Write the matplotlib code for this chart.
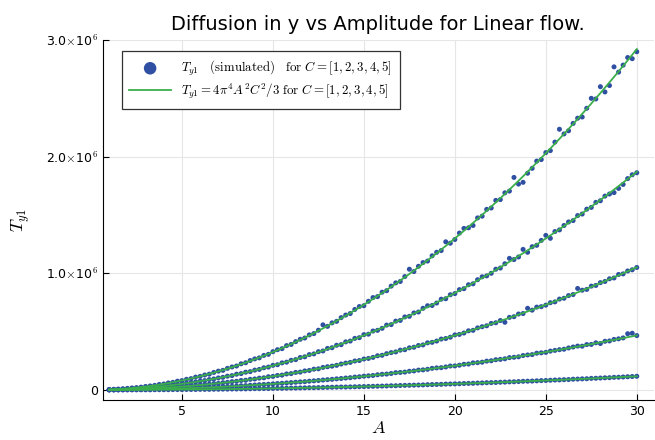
import numpy as np
import matplotlib.pyplot as plt
from matplotlib.ticker import FuncFormatter

plt.rcParams['mathtext.fontset'] = 'cm'

# amplitude grid
A = np.arange(1, 30.001, 0.25)
C_values = [1, 2, 3, 4, 5]

# simulated T_y1 (in thousands), one row per integer A: A, A+.25, A+.5, A+.75
sim_c1 = [
    0.1, 0.2, 0.3, 0.4,  0.5, 0.7, 0.8, 1.0,  1, 1, 2, 2,  2, 2, 3, 3,
    3, 4, 4, 4,  5, 5, 5, 6,  6, 7, 7, 8,  8, 9, 9, 10,
    11, 11, 12, 12,  13, 14, 14, 15,  16, 16, 17, 18,  19, 19, 20, 21,
    22, 23, 24, 25,  25, 26, 27, 28,  29, 30, 31, 32,  33, 34, 36, 36,
    38, 39, 40, 41,  42, 43, 45, 46,  47, 48, 50, 51,  52, 53, 55, 56,
    57, 59, 60, 62,  63, 64, 66, 67,  69, 70, 72, 74,  75, 76, 78, 80,
    81, 83, 85, 86,  88, 89, 92, 93,  95, 96, 99, 100,  102, 104, 105, 108,
    109, 111, 113, 115,  117,
]
sim_c2 = [
    0.5, 0.8, 1.2, 1.6,  2.1, 2.6, 3.2, 3.9,  4.7, 5.5, 6.4, 7.3,  8.3, 9.4, 10.5, 11.7,
    13, 14, 16, 17,  19, 20, 22, 24,  25, 28, 29, 31,  33, 36, 37, 40,
    42, 45, 47, 49,  52, 55, 57, 60,  63, 66, 69, 71,  75, 78, 81, 85,
    88, 91, 95, 98,  102, 105, 110, 113,  118, 121, 124, 130,  134, 136, 141, 148,
    150, 153, 160, 163,  170, 172, 177, 185,  189, 191, 197, 205,  206, 212, 220, 222,
    232, 234, 238, 247,  250, 259, 262, 267,  277, 280, 284, 295,  300, 303, 315, 318,
    322, 333, 339, 345,  349, 360, 368, 376,  375, 389, 390, 404,  398, 417, 420, 433,
    438, 446, 482, 486,  466,
]
sim_c3 = [
    1.2, 1.8, 2.6, 3.6,  4.7, 5.9, 7.3, 8.8,  10.5, 12.3, 14.5, 16.3,  19, 21, 23, 27,
    29, 32, 36, 38,  42, 47, 49, 54,  56, 62, 65, 71,  74, 81, 83, 91,
    94, 101, 104, 113,  116, 124, 127, 137,  140, 150, 153, 163,  167, 178, 181, 193,
    199, 204, 211, 222,  230, 236, 248, 252,  265, 270, 279, 293,  297, 311, 320, 326,
    341, 345, 361, 366,  381, 386, 404, 408,  419, 436, 441, 452,  472, 476, 488, 507,
    511, 532, 542, 550,  570, 576, 595, 580,  622, 628, 651, 655,  700, 684, 710, 714,
    727, 748, 755, 779,  786, 809, 818, 870,  855, 862, 890, 896,  920, 930, 953, 960,
    990, 995, 1020, 1030,  1050,
]
sim_c4 = [
    2.1, 3.2, 4.7, 6.4,  8.3, 10.5, 13, 15.7,  18.7, 22, 25.5, 29,  33, 37, 43, 47,
    51, 58, 63, 68,  76, 80, 89, 94,  103, 108, 118, 123,  135, 140, 152, 157,
    170, 176, 190, 196,  211, 216, 232, 238,  254, 260, 278, 284,  303, 309, 328, 334,
    356, 362, 383, 388,  412, 419, 442, 448,  474, 478, 505, 511,  528, 556, 560, 590,
    596, 626, 631, 660,  668, 700, 722, 724,  745, 778, 782, 816,  826, 860, 868, 902,
    910, 945, 970, 978,  1000, 1035, 1045, 1082,  1128, 1118, 1140, 1205,  1180, 1228, 1240, 1282,
    1325, 1300, 1358, 1372,  1410, 1440, 1452, 1495,  1508, 1550, 1565, 1608,  1622, 1662, 1680, 1692,
    1728, 1762, 1812, 1845,  1862,
]
sim_c5 = [
    3.2, 5.1, 7.3, 9.9,  13, 17, 20, 24,  30, 34, 39, 47,  51, 60, 65, 75,
    80, 91, 97, 110,  116, 128, 135, 150,  161, 168, 185, 197,  205, 224, 233, 252,
    266, 275, 296, 305,  328, 345, 354, 380,  390, 414, 434, 445,  472, 483, 512, 558,
    545, 575, 588, 620,  642, 655, 690, 715,  722, 760, 792, 800,  838, 851, 890, 918,
    930, 972, 1035, 1015,  1060, 1092, 1105, 1150,  1180, 1195, 1270, 1258,  1290, 1345, 1385, 1390,
    1410, 1475, 1490, 1548,  1560, 1625, 1632, 1690,  1705, 1822, 1765, 1780,  1858, 1900, 1962, 1975,
    2035, 2052, 2125, 2235,  2195, 2222, 2285, 2330,  2340, 2415, 2500, 2495,  2600, 2555, 2610, 2770,
    2725, 2785, 2850, 2840,  2900,
]
simulated = [sim_c1, sim_c2, sim_c3, sim_c4, sim_c5]

blue = '#2f4fa2'
green = '#3aae4a'

fig = plt.figure(figsize=(6.55, 4.4), dpi=100)
ax = fig.add_axes([0.157, 0.091, 0.841, 0.818])

for i, (C, sim) in enumerate(zip(C_values, simulated)):
    ax.scatter(A, np.array(sim) * 1e3, s=13, color=blue, edgecolors='none', zorder=2,
               label=r'$T_{y1}\quad\mathrm{(simulated)}\quad\mathrm{for}\ C = [1, 2, 3, 4, 5]$' if i == 0 else None)
for i, C in enumerate(C_values):
    theory = 4 * np.pi**4 * A**2 * C**2 / 3
    ax.plot(A, theory, color=green, lw=1.3, zorder=3,
            label=r'$T_{y1} = 4\pi^4 A^2 C^2/3\ \mathrm{for}\ C = [1, 2, 3, 4, 5]$' if i == 0 else None)

ax.set_xlim(0.65, 30.93)
ax.set_ylim(-0.086e6, 3.0e6)
ax.set_xticks([5, 10, 15, 20, 25, 30])
ax.set_yticks([0, 1e6, 2e6, 3e6])


def sci(v, pos):
    if v == 0:
        return '0'
    return r'%.1f$\times$10$^{6}$' % (v / 1e6)


ax.yaxis.set_major_formatter(FuncFormatter(sci))
ax.tick_params(direction='in', length=4, width=0.8, labelsize=9, colors='black')
ax.grid(True, color='#e6e6e6', lw=0.8)
ax.set_axisbelow(True)
for side in ['top', 'right']:
    ax.spines[side].set_visible(False)

ax.set_title('Diffusion in y vs Amplitude for Linear flow.', fontsize=14, pad=7)
ax.set_xlabel(r'$A$', fontsize=13, labelpad=1)
ax.set_ylabel(r'$T_{y1}$', fontsize=13, labelpad=10)

leg = ax.legend(loc='upper left', bbox_to_anchor=(121.7 / 655, 1 - 51 / 440),
                bbox_transform=fig.transFigure, borderaxespad=0, fontsize=9.3,
                fancybox=False, framealpha=1, edgecolor='#333333',
                markerscale=2.5, handlelength=3.2, borderpad=0.6, labelspacing=0.3)
leg.get_frame().set_linewidth(0.9)

fig.savefig('out.png', dpi=100)
